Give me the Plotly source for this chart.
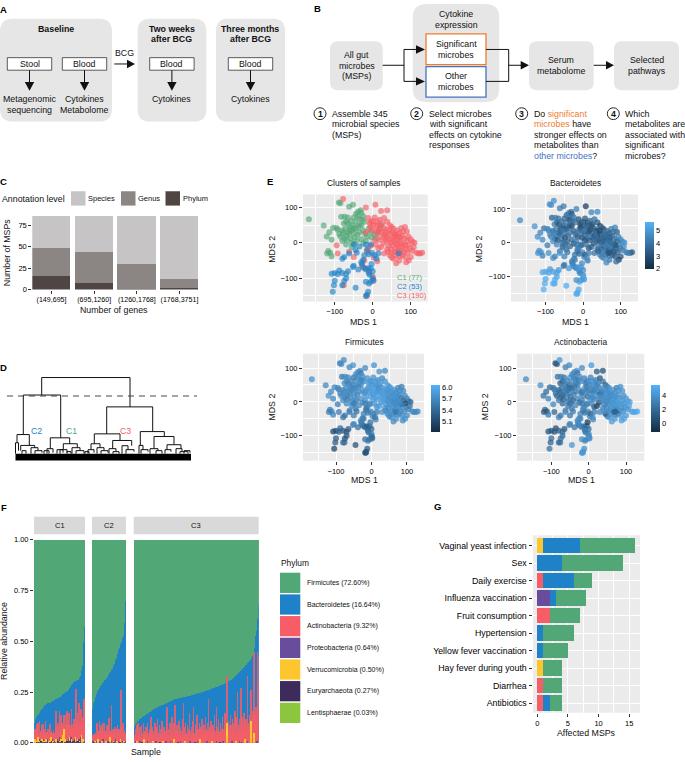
import plotly.graph_objects as go

W, H = 685, 762
FONT = "Liberation Sans"
GREEN, BLUE, RED, PURPLE, YELLOW, DARK, LIME = "#52A777", "#1F82C8", "#F65D66", "#6A4C9C", "#FDC62F", "#3D2B5B", "#8CC63E"
ORANGE, BLUE2 = "#ED7D31", "#4472C4"
BOX = "#E6E6E6"
PANEL = "#EBEBEB"

# ---------- C: MSPs per gene-count bin
gene_bins = ["(149,695]", "(695,1260]", "(1260,1768]", "(1768,3751]"]
msp_phylum = [17, 8, 1, 2]
msp_genus = [32, 36, 30, 11]
msp_species = [38, 42, 55, 73]

# ---------- D: dendrogram nodes: left x, right x, top, left bottom, right bottom
dend_nodes = [
    (41.7, 130, 378, 395.7, 407.7), (23.3, 60.7, 395.7, 435.7, 439), (106.7, 152.7, 407.7, 435, 432.7),
    (17, 29.3, 435.7, 444, 446.7), (50.3, 69.7, 439, 450, 445), (63.3, 77.3, 445, 451, 449),
    (94.3, 120, 435, 445, 441.7), (112.7, 131.7, 441.7, 450, 447), (140.3, 164.3, 432.7, 446.7, 437.7),
    (154, 174, 437.7, 450, 446), (167, 181, 446, 451, 450), (91, 100, 445, 451, 449),
    (15.5, 18.5, 444, 455, 452), (20.7, 34.7, 446.7, 452, 449), (31, 38, 449, 455, 452), (35, 42, 452, 455, 454),
    (22, 26, 452, 455, 455), (47, 53, 450, 455, 454), (57, 63, 451, 455, 454), (60, 67, 451, 455, 454),
    (72, 80, 449, 455, 452), (76, 84, 452, 455, 455), (88, 94, 451, 455, 454), (97, 104, 449, 455, 452),
    (101, 108, 452, 455, 454), (109, 116, 450, 455, 453), (113, 119, 453, 455, 455), (122, 128, 447, 455, 451),
    (126, 134, 451, 455, 453), (139, 143, 446.7, 455, 451), (141, 148, 451, 455, 453), (150, 158, 450, 455, 452),
    (156, 162, 452, 455, 455), (165, 171, 451, 455, 453), (176, 182, 450, 455, 453), (180, 188, 453, 455, 455),
    (184, 190, 452, 455, 454), (44, 49, 452, 455, 455), (67, 71, 453, 455, 455), (85, 89, 453, 455, 455),
]
dend_band_x = [15.5, 191, 191, 15.5]
dend_band_y = [455, 455, 462, 462]
dend_cut = 396.7

# ---------- E: MDS coordinates
c1_mds1 = [-168,-89,-85,-62,-52,-129,-114,-121,-108,-104,
           -92,-80,-117,-112,-108,-120,-83,-74,-66,-70,
           -76,-65,-60,-72,-60,-52,-45,-50,-44,-38,
           -32,-30,-40,-35,-28,-22,-45,-50,-62,-70,
           -75,-80,-68,-58,-55,-48,-40,-35,-25,-20,
           -15,-10,-5,-3,5,10,15,22,-38,-30,
           -85,-70,-55,-30,-25,-18,-42,-95,-58,-50,
           -25,-35,-55,-65,-78,-88,-48]
c1_mds2 = [67,114,112,102,108,49,30,18,9,43,
           37,35,-23,-28,-38,-30,74,74,72,60,
           55,55,45,40,38,50,60,72,82,88,
           92,85,75,68,65,60,40,28,25,20,
           12,5,8,12,0,15,22,30,35,25,
           18,40,30,15,22,12,30,50,45,50,
           18,-5,-12,10,-2,5,5,42,62,42,
           75,52,35,30,28,25,-3]
c2_mds1 = [-100,-108,-88,-80,-92,-65,-70,-70,-75,-80,
           -100,-102,-105,-45,-50,-52,-38,-25,-18,-12,
           -5,0,-10,-8,0,2,-5,-10,-18,-12,-18,
           -15,-75,-80,-62,-45,-42,-25,-30,-22,-15,
           -10,-2,5,10,15,-50,-35,-5,-18,68,-3,-28]
c2_mds2 = [-85,-87,-78,-85,-88,-80,-88,-100,-108,-120,
           -107,-120,-138,-127,-65,-68,-75,-70,-75,-72,
           -72,-80,-85,-90,-100,-105,-110,-115,-110,-138,-150,
           -147,-40,-45,-30,-20,-28,-48,-55,-35,-20,
           -32,-28,-35,-45,-30,-5,-10,-5,-5,-30,-60,-60]
c3_mds1 = [-78,-18,7,22,38,-95,-92,-62,-50,-76,
           -28,-20,-10,0,2,-16,-22,-15,3,12,
           -12,-5,-8,0,5,12,18,10,2,-6,
           18,25,30,38,45,50,55,30,36,24,
           12,30,38,45,52,58,65,75,85,90,
           100,105,110,115,125,130,120,108,98,92,
           100,95,88,70,62,50,45,30,38,22,
           28,35,42,50,55,60,66,72,78,84,
           90,95,82,75,68,60,52,48,58,66,
           74,82,88,78,70,60,50,40,15,8,
           18,5,-5,-12,25,33,44,62,70,80,
           56,64,72,86,94,76,48,42,34,15,
           8,20,-2,-18,55,72,104,85,60,68]
c3_mds2 = [124,100,108,90,92,-7,-30,-25,-40,-120,
           -65,-72,-80,-95,-108,-150,-50,-25,-42,-52,
           70,60,55,62,72,60,65,50,50,45,
           48,55,70,60,50,45,40,42,36,30,
           25,22,20,25,30,25,35,42,45,32,
           10,3,0,-28,-30,-28,-30,-12,-15,-28,
           -40,-50,-55,-50,-58,-42,-35,-30,-18,-12,
           -2,5,8,12,5,0,8,15,20,12,
           5,-5,-5,-12,-10,-15,-8,-18,-25,-22,
           -20,-25,-18,-35,-38,-35,-28,-25,-15,-5,
           8,8,-8,-15,15,28,35,18,28,32,
           15,-5,5,-8,18,-2,0,-8,12,35,
           35,40,35,30,-45,-28,-22,-40,22,18]

c1_bact = [4.6,4.8,4.7,4.3,4.2,4.9,4.5,4.8,4.6,3.9,
           4.2,3.6,4.7,4.9,4.4,4.8,3.4,4.4,3.9,3.6,
           4.2,3.1,3.6,4.3,3.4,3.2,4.0,3.7,3.5,4.2,
           3.9,3.3,4.1,3.0,3.6,4.0,3.2,4.1,3.5,4.4,
           3.8,4.6,3.1,4.0,3.7,2.9,3.6,4.2,3.4,3.8,
           3.1,3.5,4.0,2.9,3.6,4.1,3.3,4.3,3.7,3.0,
           4.4,4.5,3.3,3.8,3.1,4.2,3.5,4.6,3.9,3.4,
           4.0,3.2,4.1,3.6,4.3,4.5,3.8]
c2_bact = [5.3,5.4,5.0,5.2,5.3,4.9,5.1,5.3,5.5,5.6,
           5.4,5.5,5.7,5.5,4.4,4.0,5.0,4.8,4.6,4.9,
           5.1,4.7,5.0,4.5,5.2,5.3,4.9,5.2,4.8,5.4,5.6,
           5.5,4.4,4.6,4.9,3.8,4.2,4.5,4.1,3.9,4.3,
           3.6,4.5,3.4,4.7,4.2,4.0,3.7,3.9,4.1,3.0,4.6,4.4]
c3_bact = [4.8,4.3,2.6,4.5,4.6,4.2,4.8,4.1,4.4,5.2,
           4.6,4.3,4.0,4.7,4.9,5.5,4.2,3.9,4.3,4.1,
           3.1,3.4,2.8,3.6,3.3,2.7,3.8,3.2,3.5,2.9,
           3.6,2.9,4.0,3.3,2.5,3.7,3.0,3.5,2.8,3.9,
           4.1,3.2,3.7,2.9,4.2,3.5,3.8,4.3,4.4,3.4,
           4.7,4.4,4.8,3.9,4.2,3.1,4.3,4.6,4.0,3.6,
           3.3,2.6,3.8,4.1,4.5,4.4,4.2,4.0,3.4,3.7,
           3.1,3.8,2.8,3.5,4.2,3.3,4.0,3.0,3.7,4.1,
           3.5,4.3,3.0,3.9,4.4,3.6,4.0,3.2,4.3,3.5,
           4.1,2.9,3.7,3.2,4.2,3.8,4.3,3.6,3.1,3.9,
           3.4,3.0,3.7,4.2,3.2,3.8,2.7,4.0,3.4,3.9,
           3.3,4.2,3.6,3.1,4.4,3.8,3.4,4.1,3.7,2.9,
           3.5,3.1,3.8,4.0,4.5,3.5,4.3,3.3,3.9,3.6]

c1_firm = [5.8,5.6,5.7,5.7,5.8,5.7,5.7,5.8,5.7,5.7,
           5.6,5.7,5.6,5.7,5.7,5.6,5.5,5.7,5.7,5.7,
           5.7,5.6,5.7,5.7,5.8,5.6,5.7,5.5,5.7,5.7,
           5.7,5.6,5.7,5.8,5.6,5.7,5.7,5.7,5.7,5.6,
           5.7,5.7,5.6,5.7,5.7,5.8,5.7,5.7,5.8,5.7,
           5.9,5.7,5.8,5.9,5.8,5.9,5.7,5.9,5.7,5.7,
           5.7,5.7,5.7,5.8,5.7,5.8,5.6,5.7,5.7,5.7,
           5.7,5.7,5.7,5.7,5.7,5.7,5.7]
c2_firm = [5.2,5.1,5.4,5.3,5.3,5.3,5.2,5.3,5.2,5.4,
           5.3,5.3,5.1,5.2,5.6,5.7,5.5,5.5,5.4,5.3,
           5.3,5.4,5.4,5.5,5.5,5.4,5.4,5.5,5.5,5.3,5.2,
           5.2,5.5,5.5,5.6,5.6,5.5,5.5,5.7,5.6,5.5,
           5.6,5.6,5.7,5.5,5.6,5.6,5.7,5.7,5.6,5.5,5.5,5.6]
c3_firm = [5.7,5.7,5.8,5.8,5.7,5.6,5.6,5.7,5.6,5.5,
           5.6,5.6,5.5,5.7,5.6,5.2,5.7,5.7,5.7,5.7,
           5.8,5.9,5.9,5.8,5.8,5.9,5.8,5.9,5.8,5.9,
           5.8,5.9,5.7,5.8,5.9,5.8,5.9,5.8,5.9,5.8,
           5.9,5.8,5.9,5.8,5.7,5.9,5.8,5.7,5.6,5.7,
           5.7,5.6,5.4,5.7,5.7,5.7,5.7,5.5,5.7,5.7,
           5.7,5.8,5.7,5.8,5.7,5.8,5.7,5.8,5.8,5.9,
           5.8,5.9,5.8,5.7,5.8,5.7,5.7,5.8,5.7,5.6,
           5.4,5.1,5.7,5.8,5.7,5.9,5.8,5.7,5.8,5.7,
           5.8,5.7,5.8,5.7,5.8,5.7,5.8,5.7,5.8,5.8,
           5.9,5.9,5.8,5.7,5.9,5.9,5.8,5.8,5.7,5.7,
           5.8,5.7,5.7,5.5,5.7,5.7,5.8,5.8,5.9,5.9,
           5.9,5.8,5.9,5.8,5.7,5.8,5.6,5.7,5.8,5.8]

c1_acti = [3.6,0.6,1.0,3.0,3.5,3.9,2.0,2.4,3.3,1.8,
           2.6,2.0,1.5,0.8,2.9,1.2,2.3,3.0,2.6,2.0,
           1.4,2.8,3.4,2.2,3.0,1.6,3.4,3.9,3.0,3.4,
           4.0,2.8,3.4,3.0,2.4,3.6,1.8,3.0,2.2,1.2,
           2.0,2.8,1.5,3.0,2.4,2.0,3.4,2.6,3.8,2.9,
           3.5,4.1,3.0,2.2,3.6,3.1,3.8,4.0,2.6,3.0,
           1.6,2.0,2.5,3.2,1.8,2.9,1.5,2.6,3.4,2.2,
           3.6,2.8,2.5,2.9,1.9,2.4,2.1]
c2_acti = [1.2,0.8,0.6,1.5,0.9,1.0,1.6,2.0,2.4,1.8,
           2.2,1.6,2.4,4.2,2.6,3.5,2.6,3.2,3.6,2.2,
           1.8,2.4,3.0,2.6,3.4,3.8,4.0,3.2,3.5,3.8,4.1,
           4.2,2.8,3.0,3.6,2.6,3.0,3.4,3.8,3.2,3.6,
           2.4,3.0,1.8,3.5,3.0,2.6,3.4,3.2,2.8,1.4,-0.5,3.6]
c3_acti = [4.2,3.6,4.4,1.2,0.9,3.4,1.8,3.0,2.6,3.0,
           2.8,3.4,2.2,3.6,3.8,4.4,3.4,2.5,3.0,3.6,
           3.0,3.5,2.6,3.8,3.2,4.0,3.4,3.9,3.6,3.0,
           3.8,3.2,1.0,2.6,1.4,3.0,3.8,3.4,4.1,3.6,
           3.9,0.4,3.5,3.8,4.0,3.4,4.2,3.1,3.9,4.2,
           4.5,4.8,4.6,4.9,5.2,5.1,4.8,4.7,4.4,3.6,
           4.4,4.8,4.6,4.2,4.5,3.0,0.7,3.4,3.9,-0.2,
           0.3,3.4,3.8,3.5,4.1,3.6,4.2,3.8,4.3,4.0,
           4.3,3.9,4.4,3.8,4.2,3.6,4.1,3.4,3.9,4.2,
           3.8,4.3,3.6,1.4,3.8,4.1,3.5,3.9,0.6,3.0,
           3.4,3.6,2.8,3.2,3.8,3.0,3.6,4.1,3.8,4.0,
           3.6,4.2,3.9,4.4,4.0,4.3,3.5,3.2,3.7,3.4,
           3.0,3.5,3.2,2.6,3.9,1.6,4.0,4.3,3.7,4.1]

# ---------- F: relative abundance (%)
c1_top = [8,10,11,12,13,13,14,14,15,15,
          16,16,17,17,18,18,19,19,19,19.5,
          20,20,20,20,20,20,20.5,20.5,21,21,
          21,21.5,21.5,22,22,22,22.5,22.5,23,23,
          23,23.5,23.5,24,24,24,24.5,24.5,25,25,
          25,25.5,26,26.5,27,27.5,28,28.5,29,29.5,
          30,30,30,30.5,30.5,31,31,31,31.5,32,
          33,34,36,38,43,50,57]
c2_top = [14,17,18,20,21,22,23,24,25,25.5,
          26,26.5,27,27.5,28,28.5,29,29.5,30,30.5,
          31,31,31.5,32,32.5,33,33.5,34,34.5,35,
          35.5,36,36.5,37,38,39,40,41,42,43,
          44,45,46,47,48,49,50,51,52,53,
          54,59,70]
c3_top = [7,8,9,9.5,10,10.5,11,11,11.5,12,
          12,12.3,12.5,12.8,13,13.2,13.5,13.7,14,14.2,
          14.4,14.6,14.8,15,15.3,15.5,15.8,16,16.3,16.5,
          16.7,16.9,17,17.2,17.4,17.6,17.8,17.9,18,18.2,
          18.3,18.5,18.6,18.8,18.9,19,19.2,19.3,19.5,19.6,
          19.7,19.9,20,20.2,20.4,20.6,20.8,21,21.2,21.4,
          21.5,21.6,21.6,21.7,21.8,21.9,22,22,22.1,22.2,
          22.3,22.4,22.4,22.5,22.6,22.7,22.8,22.8,22.9,23,
          23,23.1,23.2,23.3,23.3,23.4,23.5,23.6,23.7,23.8,
          23.8,23.9,24,24.1,24.2,24.3,24.4,24.5,24.6,24.7,
          24.8,24.9,25,25.1,25.2,25.3,25.4,25.5,25.6,25.7,
          25.8,25.9,26,26.2,26.3,26.4,26.6,26.7,26.8,27,
          27,27.1,27.2,27.4,27.5,27.6,27.7,27.8,27.9,28,
          28.2,28.3,28.5,28.6,28.8,28.9,29,29.2,29.4,29.6,
          29.7,29.9,30.1,30.2,30.4,30.6,30.8,31,31.2,31.5,
          31.7,32,32.3,32.6,32.9,33.2,33.5,33.8,34.1,34.5,
          34.8,35.1,35.5,35.8,36.1,36.5,36.8,37.2,37.6,38,
          38.3,38.7,39,39.4,39.8,40.2,40.6,41,41.5,42,
          43,44,45,47,50,53,55,57,61,68]
c1_actino = [4,5,3,6,9,2,7,3,9,4,
             5,8,3,9,2,6,4,10,3,5,
             4,7,3,4,9,2,5,3,4,6,
             3,5,8,14,6,3,9,4,13,8,
             12,6,9,4,10,7,5,12,8,15,
             6,9,13,5,8,4,15,9,6,3,
             11,7,20,26,9,13,6,18,7,10,
             14,9,12,8,20,21,21]
c2_actino = [3,3,2,4,3,5,3,10,9,4,
             6,10,3,7,9,5,3,8,4,10,
             6,3,7,9,4,5,12,5,3,6,
             18,4,7,3,5,8,4,3,6,9,
             5,3,7,4,5,26,8,4,10,4,
             6,3,5]
c3_actino = [3,4,6,2,8,3,10,4,2,7,
             3,9,2,5,10,3,6,2,8,4,
             9,3,5,2,7,13,4,8,3,6,
             2,10,4,7,3,12,5,2,9,4,
             7,3,11,5,2,8,4,6,3,9,
             18,4,7,2,10,3,6,13,5,3,
             8,4,19,6,3,9,5,2,11,4,
             7,3,6,12,4,20,8,3,10,5,
             4,9,3,7,15,5,2,8,4,11,
             18,5,3,9,6,14,4,7,3,10,
             5,8,3,12,6,4,9,5,13,7,
             4,10,6,22,5,8,3,11,4,7,
             9,5,14,6,3,17,8,4,12,6,
             5,10,4,7,13,6,3,9,15,5,
             8,23,4,11,6,9,14,5,8,12,
             6,10,4,16,7,12,5,25,9,6,
             11,7,27,5,13,8,6,15,9,7,
             12,6,32,10,8,14,6,15,9,12,
             16,8,40,14,10,18,12,45,30,43]
# sparse small phyla: sample index -> %
c1_verruco = {1:2,3:1,6:3,9:1,12:2,15:1,18:2,22:1,25:3,28:1,33:2,37:1,40:2,43:4,45:7,47:2,50:1,53:3,56:2,59:1,62:3,65:2,68:1,71:4,73:2}
c1_proteo = {0:1,2:2,5:1,8:2,11:1,14:2,17:1,20:2,23:1,27:2,30:1,34:2,38:3,41:1,44:2,48:1,52:2,55:3,58:1,61:2,64:1,67:2,70:3,72:1,75:1}
c1_eury = {4:0.5,7:0.5,10:1,13:0.5,16:0.5,19:0.5,24:0.5,26:1,29:0.5,32:0.5,36:1,39:0.5,42:1,46:0.5,49:1,51:0.5,54:1,57:0.5,60:1,63:0.5,66:1,69:0.5,74:0.5}
c2_verruco = {4:1,9:2,15:1,21:1,28:3,33:1,38:1,44:2,49:1}
c2_proteo = {1:1,6:1,11:1,17:2,24:1,30:1,36:2,41:1,47:1,51:1}
c2_eury = {3:0.5,13:0.5,26:0.5,34:0.5,43:0.5,50:0.5}
c3_verruco = {4:1,15:2,28:1,44:1,60:2,77:1,100:2,118:1,141:10,155:1,168:2,177:11,182:5}
c3_proteo = {2:1,9:1,20:1,33:1,48:1,55:1,70:1,85:1,96:1,110:1,125:1,135:1,148:1,160:1,172:1,186:1}
c3_eury = {12:0.5,39:0.5,66:0.5,92:0.5,130:0.5,163:0.5}

phylum_labels = ["Firmicutes (72.60%)", "Bacteroidetes (16.64%)", "Actinobacteria (9.32%)", "Proteobacteria (0.64%)",
                 "Verrucomicrobia (0.50%)", "Euryarchaeota (0.27%)", "Lentisphaerae (0.03%)"]
phylum_colors = [GREEN, BLUE, RED, PURPLE, YELLOW, DARK, LIME]

# ---------- G: affected MSPs
factors = ["Vaginal yeast infection", "Sex", "Daily exercise", "Influenza vaccination", "Fruit consumption",
           "Hypertension", "Yellow fever vaccination", "Hay fever during youth", "Diarrhea", "Antibiotics"]
g_verruco = [1, 0, 0, 0, 0, 0, 0, 1, 0, 0]
g_actino = [0, 0, 1, 0, 2, 0, 0, 0, 1, 1]
g_proteo = [0, 0, 0, 2, 0, 0, 0, 0, 0, 0]
g_bact = [6, 4, 5, 1, 0, 1, 1, 0, 0, 1]
g_firm = [9, 10, 3, 5, 5, 5, 4, 3, 3, 2]


def fx(x):
    return x / W


def fy(y):
    return 1 - y / H


shapes, annots = [], []


def T(x, y, s, size=8.8, color="#111", anchor="center", angle=0):
    annots.append(dict(x=fx(x), y=fy(y), xref="paper", yref="paper", text=s, showarrow=False, xanchor=anchor,
                       yanchor="middle", textangle=angle, borderpad=0,
                       font=dict(family=FONT, size=size, color=color)))


def rect(x0, y0, x1, y1, fill="white", line=None, lw=0.8, layer="above"):
    shapes.append(dict(type="rect", xref="paper", yref="paper", x0=fx(x0), x1=fx(x1), y0=fy(y0), y1=fy(y1),
                       fillcolor=fill, layer=layer, line=dict(color=line or "rgba(0,0,0,0)", width=lw if line else 0)))


def rbox(x0, y0, x1, y1, r, fill=BOX):
    X0, X1, Y0, Y1 = fx(x0), fx(x1), fy(y0), fy(y1)
    rx, ry = r / W, r / H
    p = (f"M{X0+rx},{Y0} L{X1-rx},{Y0} Q{X1},{Y0} {X1},{Y0-ry} L{X1},{Y1+ry} Q{X1},{Y1} {X1-rx},{Y1} "
         f"L{X0+rx},{Y1} Q{X0},{Y1} {X0},{Y1+ry} L{X0},{Y0-ry} Q{X0},{Y0} {X0+rx},{Y0} Z")
    shapes.append(dict(type="path", xref="paper", yref="paper", path=p, fillcolor=fill, line=dict(width=0)))


def seg(x0, y0, x1, y1, lw=1.0, color="#111"):
    shapes.append(dict(type="line", xref="paper", yref="paper", x0=fx(x0), x1=fx(x1), y0=fy(y0), y1=fy(y1),
                       line=dict(color=color, width=lw)))


def head(x0, y0, x1, y1, hw):
    if y0 == y1:
        pts = [(x0, y0 - hw), (x1, y1), (x0, y0 + hw)]
    else:
        pts = [(x0 - hw, y0), (x1, y1), (x0 + hw, y0)]
    p = "M" + " L".join(f"{fx(a)},{fy(b)}" for a, b in pts) + " Z"
    shapes.append(dict(type="path", xref="paper", yref="paper", path=p, fillcolor="#111", line=dict(width=0)))


# Panel labels
for lab, x, y in [("A", 3.5, 6), ("B", 317, 5), ("C", 3.5, 180), ("D", 3.5, 368), ("E", 270, 180), ("F", 3.5, 510), ("G", 437, 509)]:
    T(x, y, f"<b>{lab}</b>", size=9.5, color="#000")

# ---- A
rbox(0, 15, 112, 119, 13)
rbox(137.7, 15, 206.3, 119, 12)
rbox(216, 15, 285, 119, 12)
for x0, label in [(7.3, "Stool"), (62.3, "Blood"), (149.7, "Blood"), (228.3, "Blood")]:
    rect(x0, 54.3, x0 + 44.4, 67, line="#333")
    T(x0 + 22.2, 60.7, label)
    seg(x0 + 22.2, 67, x0 + 22.2, 80)
    head(x0 + 22.2, 79, x0 + 22.2, 87.7, 4.7)
seg(114.3, 60.7, 128, 60.7)
head(127, 60.7, 135, 60.7, 4.2)
T(124.3, 50, "BCG")
T(56, 25, "<b>Baseline</b>")
T(171.7, 25, "<b>Two weeks</b>")
T(171.7, 35.7, "<b>after BCG</b>")
T(250.3, 25, "<b>Three months</b>")
T(250.3, 35.7, "<b>after BCG</b>")
T(29.3, 96, "Metagenomic")
T(29.3, 107, "sequencing")
T(84.7, 96, "Cytokines")
T(84.7, 107, "Metabolome")
T(171.7, 96, "Cytokines")
T(250.3, 96, "Cytokines")

# ---- B
rbox(330, 37.7, 382.7, 87.3, 8)
rbox(412.7, 0, 499.3, 99.3, 14)
rbox(529, 37.7, 593.7, 87.3, 8)
rbox(614, 37.7, 679, 87.3, 8)
rect(426, 30.3, 486, 61.3, line=ORANGE, lw=1.3)
rect(426, 63.3, 486, 94.3, line=BLUE2, lw=1.3)
seg(382.7, 62, 404, 62)
seg(404, 46, 404, 78.3)
seg(404, 46, 417, 46)
seg(404, 78.3, 417, 78.3)
head(416, 46, 425, 46, 4.3)
head(416, 78.3, 425, 78.3, 4.3)
seg(486, 46, 508.7, 46)
seg(486, 78.3, 508.7, 78.3)
seg(508.7, 46, 508.7, 78.3)
seg(508.7, 62, 522, 62)
head(520.7, 62, 529, 62, 4.3)
seg(593.7, 62, 607, 62)
head(606, 62, 614, 62, 4.3)
for x, y, s in [(456, 10.3, "Cytokine"), (456, 21, "expression"), (456, 40.3, "Significant"), (456, 51.3, "microbes"),
                (456, 73, "Other"), (456, 83.7, "microbes"), (356.7, 51.7, "All gut"), (356.7, 62.3, "microbes"),
                (356.7, 73, "(MSPs)"), (561.3, 57, "Serum"), (561.3, 67.7, "metabolome"), (646.5, 57, "Selected"),
                (646.5, 67.7, "pathways")]:
    T(x, y, s)
for n, x in [(1, 320), (2, 416.7), (3, 521.7), (4, 613.3)]:
    shapes.append(dict(type="circle", xref="paper", yref="paper", x0=fx(x - 6), x1=fx(x + 6), y0=fy(111 - 6), y1=fy(111 + 6),
                       fillcolor="white", line=dict(color="#111", width=0.9)))
    T(x, 111, f"<b>{n}</b>", size=8.8)
OR = lambda s: f'<span style="color:{ORANGE}">{s}</span>'
BL = lambda s: f'<span style="color:{BLUE2}">{s}</span>'
step_text = {
    330.7: ["Assemble 345", "microbial species", "(MSPs)"],
    427.7: ["Select microbes", "with significant", "effects on cytokine", "responses"],
    532.7: ["Do " + OR("significant"), OR("microbes") + " have", "stronger effects on", "metabolites than", BL("other microbes") + "?"],
    624.3: ["Which", "metabolites are", "associated with", "significant", "microbes?"],
}
for x, lines in step_text.items():
    for i, s in enumerate(lines):
        T(x, 111 + 10.7 * i, s, anchor="left")

# ---- C legend & labels
T(0.5, 197, "Annotation level", anchor="left")
for x0, col, s in [(71, "#C6C4C4", "Species"), (121, "#8B8583", "Genus"), (165.5, "#4F4543", "Phylum")]:
    rect(x0, 189.5, x0 + 14.5, 204, fill=col)
    T(x0 + 16, 197, s, size=7.5, anchor="left")
T(6.5, 251.7, "Number of MSPs", angle=-90)
T(114, 309.3, "Number of genes")

# ---- D labels
T(36.3, 432, "C2", color=BLUE)
T(71.3, 432, "C1", color=GREEN)
T(125.3, 432, "C3", color=RED)

# ---- E backgrounds & labels
E_BOX = {"e1": (303, 427.7, 192.7, 301, -183.4, 144.7, -165.6, 136.9),
         "e2": (511, 638, 192.7, 301, -192, 146, -173, 143),
         "e3": (303, 424, 354, 462.3, -193, 148, -174, 142),
         "e4": (517, 644.3, 354, 462.3, -192, 149, -174, 142)}
for b in E_BOX.values():
    rect(b[0], b[2], b[1], b[3], fill=PANEL, layer="below")
for x, y, s in [(363.7, 180.7, "Clusters of samples"), (575.3, 180.7, "Bacteroidetes"), (364.3, 341.7, "Firmicutes"), (580.7, 341.7, "Actinobacteria")]:
    T(x, y, s, size=8.4)
for x, y in [(363.3, 321.7), (575, 321.7), (364, 482), (581, 482)]:
    T(x, y, "MDS 1")
for x, y in [(271.7, 248), (479.3, 248), (271.7, 407.7), (485.3, 407.7)]:
    T(x, y, "MDS 2", angle=-90)
T(396, 277, "C1 (77)", size=7.5, color=GREEN, anchor="left")
T(396, 286, "C2 (53)", size=7.5, color=BLUE, anchor="left")
T(396, 295, "C3 (190)", size=7.5, color=RED, anchor="left")

# ---- F labels
F_PANELS = [(34, 85, "C1"), (92, 126, "C2"), (133.7, 258.7, "C3")]
for x0, x1, s in F_PANELS:
    rect(x0, 519, x1, 536.7, fill="#D9D9D9")
    T((x0 + x1) / 2, 528, s, size=7.5)
T(146, 757, "Sample")
T(4.5, 645, "Relative abundance", angle=-90)
T(279.7, 566, "Phylum", size=8.4, anchor="left")
for i, (lab, col) in enumerate(zip(phylum_labels, phylum_colors)):
    y0 = 575.5 + 21.93 * i
    rect(280, y0, 300.3, y0 + 20.5, fill=col)
    T(305.7, y0 + 10.3, lab, size=7, anchor="left")

# ---- G
rect(533, 537.7, 640, 717.3, fill=PANEL, layer="below")
T(586.7, 738, "Affected MSPs")

fig = go.Figure()
layout = {}
tick = dict(ticks="outside", ticklen=3, tickwidth=0.8, tickcolor="#333", tickfont=dict(family=FONT, size=7.5, color="#000"),
            showline=False, zeroline=False, showgrid=False)


def axes(n, x0, x1, ytop, ybot, xr, yr, xextra=None, yextra=None):
    sx = "" if n == 1 else str(n)
    xa = dict(tick, domain=[fx(x0), fx(x1)], range=xr, anchor=f"y{sx}")
    ya = dict(tick, domain=[fy(ybot), fy(ytop)], range=yr, anchor=f"x{sx}")
    xa.update(xextra or {})
    ya.update(yextra or {})
    layout[f"xaxis{sx}"] = xa
    layout[f"yaxis{sx}"] = ya
    return f"x{sx}", f"y{sx}"


def stacked(series, n):
    """(values, colour, base) for each series, bottom to top."""
    base = [0] * n
    out = []
    for vals, col in series:
        out.append((vals, col, list(base)))
        base = [b + v for b, v in zip(base, vals)]
    return out


# C bars
xa, ya = axes(1, 32.3, 198.7, 211, 289, [-0.45, 3.45], [0, 90],
              xextra=dict(tickvals=[0, 1, 2, 3], ticktext=gene_bins, tickfont=dict(family=FONT, size=7.1, color="#000")),
              yextra=dict(tickvals=[0, 25, 50, 75]))
pos = [0, 1, 2, 3]
for vals, col, base in stacked([(msp_phylum, "#4F4543"), (msp_genus, "#8B8583"), (msp_species, "#C6C4C4")], 4):
    fig.add_trace(go.Bar(x=pos, y=vals, base=base, width=0.9, xaxis=xa, yaxis=ya, marker=dict(color=col, line=dict(width=0)), showlegend=False))

# D dendrogram
xa, ya = axes(2, 0, 205, 370, 465, [0, 205], [465, 370], xextra=dict(visible=False), yextra=dict(visible=False))
dx, dy = [], []
for xl, xr_, yt, bl, br in dend_nodes:
    dx += [xl, xl, xr_, xr_, None]
    dy += [bl, yt, yt, br, None]
fig.add_trace(go.Scatter(x=dx, y=dy, mode="lines", line=dict(color="#111", width=1), xaxis=xa, yaxis=ya, showlegend=False, hoverinfo="skip"))
fig.add_trace(go.Scatter(x=dend_band_x, y=dend_band_y, mode="lines", fill="toself", fillcolor="#000", line=dict(color="#000", width=0),
                         xaxis=xa, yaxis=ya, showlegend=False, hoverinfo="skip"))
fig.add_trace(go.Scatter(x=[7, 197], y=[dend_cut, dend_cut], mode="lines", line=dict(color="#333", width=0.9, dash="6px,5px"),
                         xaxis=xa, yaxis=ya, showlegend=False, hoverinfo="skip"))

# E scatters
grid = dict(showgrid=True, gridcolor="white", gridwidth=1, tick0=0, dtick=100,
            minor=dict(dtick=50, showgrid=True, gridcolor="white", gridwidth=0.5, ticks=""))
b = E_BOX["e1"]
xa, ya = axes(3, b[0], b[1], b[2], b[3], [b[4], b[5]], [b[6], b[7]], xextra=grid, yextra=grid)
for mx, my, col in [(c1_mds1, c1_mds2, GREEN), (c3_mds1, c3_mds2, RED), (c2_mds1, c2_mds2, BLUE)]:
    fig.add_trace(go.Scatter(x=mx, y=my, mode="markers", xaxis=xa, yaxis=ya, showlegend=False,
                             marker=dict(size=6, color=col, opacity=0.65, line=dict(width=0))))
all_x = c1_mds1 + c3_mds1 + c2_mds1
all_y = c1_mds2 + c3_mds2 + c2_mds2
CS = [[0, "#132B43"], [1, "#56B1F7"]]
for n, key, vals, lim, cb in [
    (4, "e2", c1_bact + c3_bact + c2_bact, (1.95, 5.65), (645, 221, [2, 3, 4, 5], ["2", "3", "4", "5"])),
    (5, "e3", c1_firm + c3_firm + c2_firm, (4.81, 6.08), (431.3, 385.3, [5.1, 5.4, 5.7, 6.0], ["5.1", "5.4", "5.7", "6.0"])),
    (6, "e4", c1_acti + c3_acti + c2_acti, (-1.26, 5.5), (651.3, 385.3, [0, 2, 4], ["0", "2", "4"])),
]:
    b = E_BOX[key]
    xa, ya = axes(n, b[0], b[1], b[2], b[3], [b[4], b[5]], [b[6], b[7]], xextra=grid, yextra=grid)
    fig.add_trace(go.Scatter(x=all_x, y=all_y, mode="markers", xaxis=xa, yaxis=ya, showlegend=False,
                             marker=dict(size=6, color=vals, cmin=lim[0], cmax=lim[1], colorscale=CS, opacity=0.75, line=dict(width=0),
                                         colorbar=dict(x=fx(cb[0]), xanchor="left", y=fy(cb[1]), yanchor="top", len=46.5, lenmode="pixels",
                                                       thickness=9, thicknessmode="pixels", xpad=0, ypad=0, outlinewidth=0, borderwidth=0,
                                                       tickvals=cb[2], ticktext=cb[3], ticks="", ticklabelposition="outside",
                                                       tickfont=dict(family=FONT, size=7.5, color="#000")))))

# F bars: painted from the top phylum down, each from its own base upward; the
# Bacteroidetes layer also runs under the thin Actinobacteria spikes, which let it show through
clusters = [(c1_top, c1_actino, c1_proteo, c1_verruco, c1_eury), (c2_top, c2_actino, c2_proteo, c2_verruco, c2_eury),
            (c3_top, c3_actino, c3_proteo, c3_verruco, c3_eury)]
for k, ((x0, x1, _), (top, actino, proteo, verruco, eury)) in enumerate(zip(F_PANELS, clusters)):
    N = len(top)
    assert len(actino) == N
    ycfg = dict(tickvals=[0, 25, 50, 75, 100], ticktext=["0.00", "0.25", "0.50", "0.75", "1.00"]) if k == 0 else dict(visible=False)
    xa, ya = axes(7 + k, x0, x1, 542, 747.7, [-0.5, N - 0.5], [0, 100], xextra=dict(visible=False), yextra=ycfg)
    idx = list(range(N))
    e = [eury.get(i, 0) for i in idx]
    v = [verruco.get(i, 0) for i in idx]
    p = [proteo.get(i, 0) for i in idx]
    low = [e[i] + v[i] + p[i] + actino[i] for i in idx]
    tops = [max(top[i], low[i]) for i in idx]
    fig.add_trace(go.Bar(x=idx, y=[100 - t for t in tops], base=tops, width=1, xaxis=xa, yaxis=ya, showlegend=False, marker=dict(color=GREEN, line=dict(width=0))))
    fig.add_trace(go.Bar(x=idx, y=tops, base=[0] * N, width=1, xaxis=xa, yaxis=ya, showlegend=False, marker=dict(color=BLUE, line=dict(width=0))))
    layers = stacked([(e, DARK), (v, YELLOW), (p, PURPLE), (actino, RED)], N)
    for vals, col, base in reversed(layers):
        op = 0.86 if col == RED else 1
        fig.add_trace(go.Bar(x=idx, y=vals, base=base, width=1, xaxis=xa, yaxis=ya, showlegend=False, marker=dict(color=col, opacity=op, line=dict(width=0))))

# G bars
gx = dict(tickvals=[0, 5, 10, 15], showgrid=True, gridcolor="white", gridwidth=1,
          minor=dict(tickvals=[2.5, 7.5, 12.5], showgrid=True, gridcolor="white", gridwidth=0.5, ticks=""))
gy = dict(type="category", categoryorder="array", categoryarray=factors, showgrid=True, gridcolor="white", gridwidth=1,
          tickfont=dict(family=FONT, size=8.8, color="#000"), ticklen=3.5)
xa, ya = axes(10, 533, 640, 537.7, 717.3, [-0.7, 16.75], [9.55, -0.6], xextra=gx, yextra=gy)
for vals, col, base in stacked([(g_verruco, YELLOW), (g_actino, RED), (g_proteo, PURPLE), (g_bact, BLUE), (g_firm, GREEN)], 10):
    fig.add_trace(go.Bar(x=vals, y=factors, base=base, orientation="h", width=0.9, xaxis=xa, yaxis=ya, showlegend=False,
                         marker=dict(color=col, line=dict(width=0))))

fig.update_layout(width=W, height=H, margin=dict(l=0, r=0, t=0, b=0, pad=0), autosize=False, paper_bgcolor="white",
                  plot_bgcolor="rgba(0,0,0,0)", barmode="overlay", bargap=0, showlegend=False, hovermode=False,
                  font=dict(family=FONT), shapes=shapes, annotations=annots, **layout)
fig.write_html("out.html", config={"displayModeBar": False},
               post_script="document.body.style.margin='0';document.body.style.overflow='hidden';")
